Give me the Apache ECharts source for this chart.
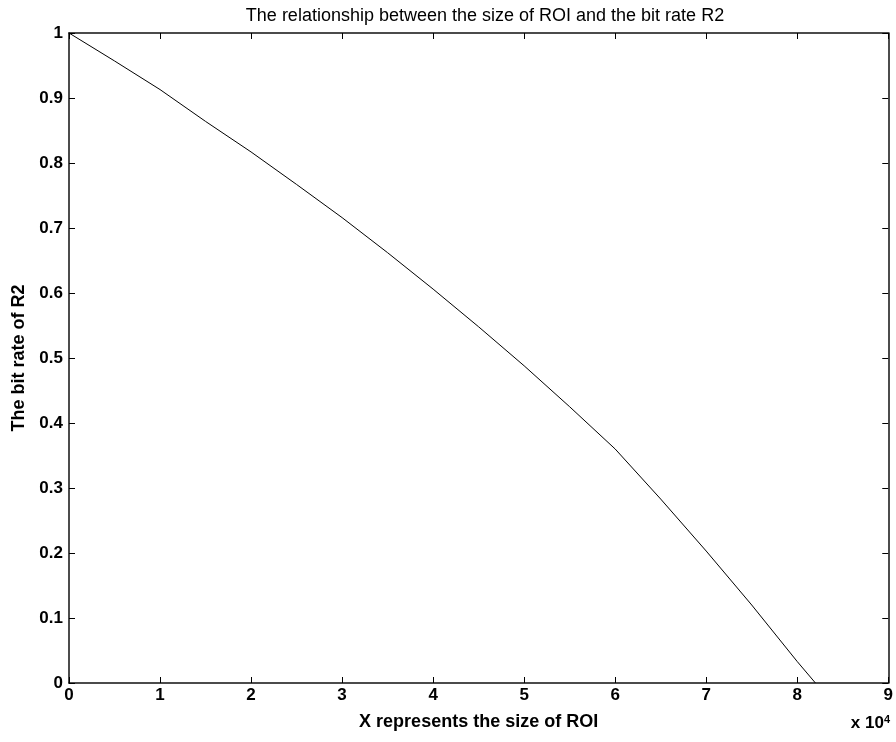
<!DOCTYPE html>
<html lang="en">
<head>
    <meta charset="UTF-8">
    <title>ROI size vs bit rate R2</title>
    <script src="https://cdn.jsdelivr.net/npm/echarts@6/dist/echarts.min.js"></script>
    <style>
        html, body { margin: 0; padding: 0; background: #fff; }
    </style>
</head>
<body>
    <div id="main" style="width: 896px;height:742px;"></div>
    <script>
    // values (x in units of 10^4)
    var roiSize = [0, 0.5, 1, 1.5, 2, 2.5, 3, 3.5, 4, 4.5, 5, 5.5, 6, 6.5, 7, 7.5, 8, 8.2];
    var bitRate = [1, 0.957, 0.913, 0.864, 0.817, 0.767, 0.716, 0.662, 0.606, 0.548, 0.488, 0.425, 0.36, 0.283, 0.203, 0.12, 0.033, 0];
    var xTicks = [0, 1, 2, 3, 4, 5, 6, 7, 8, 9];
    var yTicks = [0, 0.1, 0.2, 0.3, 0.4, 0.5, 0.6, 0.7, 0.8, 0.9, 1];

    var pts = [];
    for (var i = 0; i < roiSize.length; i++) {
        pts.push([roiSize[i], bitRate[i]]);
    }

    var font = 'Liberation Sans, Arial, sans-serif';
    var myChart = echarts.init(document.getElementById('main'));

    var boxLine = { onZero: false, lineStyle: { color: '#111', width: 1.5 } };
    var tick = { inside: true, length: 6, lineStyle: { color: '#000' } };

    option = {
        animation: false,
        backgroundColor: '#fff',
        title: {
            text: 'The relationship between the size of ROI and the bit rate R2',
            left: 480,
            textAlign: 'center',
            top: 2,
            textStyle: { fontFamily: font, fontSize: 18, fontWeight: 'normal', color: '#000' }
        },
        grid: { left: 69, right: 5, top: 33, bottom: 59 },
        xAxis: [{
            type: 'value',
            min: xTicks[0],
            max: xTicks[xTicks.length - 1],
            interval: 1,
            name: 'X represents the size of ROI',
            nameLocation: 'middle',
            nameGap: 30,
            nameTextStyle: { fontFamily: font, fontSize: 18, fontWeight: 'bold', color: '#000' },
            axisLine: boxLine,
            axisTick: tick,
            axisLabel: { fontFamily: font, fontSize: 17, fontWeight: 'bold', color: '#000', margin: 4 },
            splitLine: { show: false }
        }, {
            type: 'value',
            position: 'top',
            min: 0, max: 9, interval: 1,
            axisLine: boxLine,
            axisTick: tick,
            axisLabel: { show: false },
            splitLine: { show: false }
        }],
        yAxis: [{
            type: 'value',
            min: yTicks[0],
            max: yTicks[yTicks.length - 1],
            interval: 0.1,
            name: 'The bit rate of R2',
            nameLocation: 'middle',
            nameGap: 36,
            nameTextStyle: { fontFamily: font, fontSize: 18, fontWeight: 'bold', color: '#000' },
            axisLine: boxLine,
            axisTick: tick,
            axisLabel: { fontFamily: font, fontSize: 17, fontWeight: 'bold', color: '#000', margin: 6 },
            splitLine: { show: false }
        }, {
            type: 'value',
            position: 'right',
            min: 0, max: 1, interval: 0.1,
            axisLine: boxLine,
            axisTick: tick,
            axisLabel: { show: false },
            splitLine: { show: false }
        }],
        graphic: [{
            type: 'text',
            right: 6,
            top: 714,
            style: {
                text: 'x 10{s|4}',
                font: 'bold 17px ' + font,
                fill: '#000',
                rich: {
                    s: { fontSize: 11, fontWeight: 'bold', verticalAlign: 'top', padding: [0, 0, 8, 0] }
                }
            }
        }],
        series: [{
            type: 'line',
            data: pts,
            showSymbol: false,
            lineStyle: { color: '#000', width: 1 },
            smooth: false
        }]
    };
    myChart.setOption(option);
    </script>
</body>
</html>
